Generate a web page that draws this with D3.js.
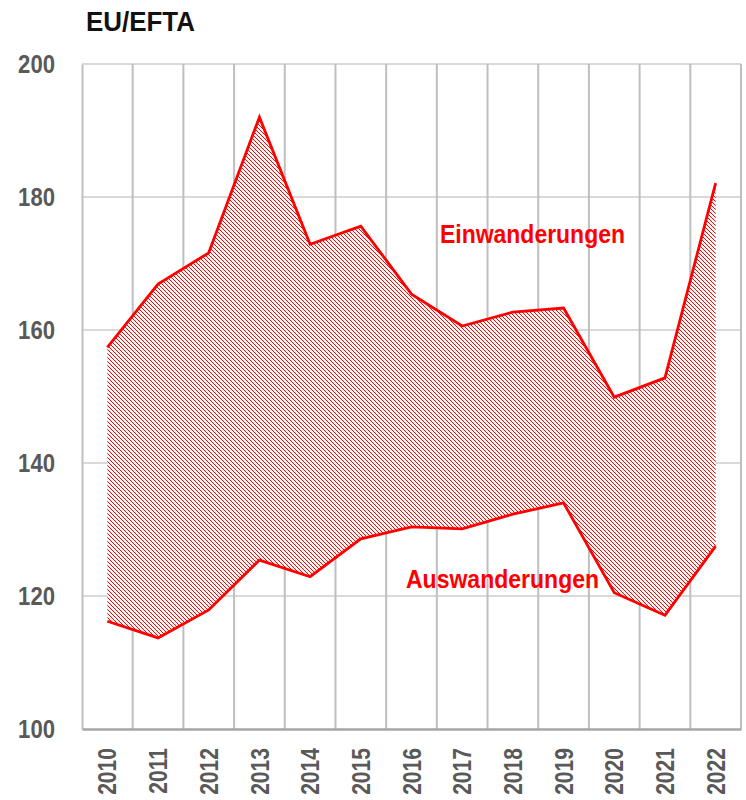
<!DOCTYPE html>
<html>
<head>
<meta charset="utf-8">
<script src="https://cdn.jsdelivr.net/npm/d3@7"></script>
<style>
  body { margin: 0; background: #fff; }
  text { font-family: "Liberation Sans", Arial, sans-serif; font-weight: bold; }
</style>
</head>
<body>
<div id="chart"></div>
<script>
// values (in thousands)
var years = ["2010", "2011", "2012", "2013", "2014", "2015", "2016", "2017", "2018", "2019", "2020", "2021", "2022"];
var einwanderungen = [157.4, 166.9, 171.6, 192.0, 172.9, 175.6, 165.4, 160.6, 162.7, 163.3, 149.9, 152.8, 182.1];
var auswanderungen = [116.2, 113.7, 117.9, 125.4, 122.9, 128.6, 130.4, 130.1, 132.3, 134.0, 120.5, 117.1, 127.5];
var yTicks = [100, 120, 140, 160, 180, 200];

var w = 746, h = 800;
var margin = { top: 64, right: 5, bottom: 71, left: 82 };
var width = w - margin.left - margin.right;
var height = h - margin.top - margin.bottom;

// the reference font is a narrow bold face, squeeze the text to match
function condense(sel, ratio) {
  sel.each(function() {
    var len = this.getComputedTextLength();
    d3.select(this)
      .attr("textLength", len * ratio)
      .attr("lengthAdjust", "spacingAndGlyphs");
  });
}

var svg = d3.select("#chart").append("svg")
  .attr("width", w)
  .attr("height", h);

// hatch pattern for the area between the two lines
var defs = svg.append("defs");
var pat = defs.append("pattern")
  .attr("id", "hatch")
  .attr("patternUnits", "userSpaceOnUse")
  .attr("width", 4)
  .attr("height", 4);
pat.append("rect").attr("width", 4).attr("height", 4).attr("fill", "#f4f4f4");
[0, 1, 2, 3].forEach(function(i) {
  pat.append("rect")
    .attr("x", i).attr("y", i)
    .attr("width", 1).attr("height", 1)
    .attr("fill", "#ff0000");
});

var chartGroup = svg.append("g")
  .attr("transform", `translate(${margin.left}, ${margin.top})`);

var xScale = d3.scaleBand()
  .domain(years)
  .range([0, width])
  .padding(0);

var yScale = d3.scaleLinear()
  .domain([100, 200])
  .range([height, 0]);

var cx = function(d, i) { return xScale(years[i]) + xScale.bandwidth() / 2; };

// horizontal gridlines
chartGroup.append("g")
  .selectAll("line")
  .data(yTicks.slice(1))
  .enter()
  .append("line")
  .attr("x1", 0)
  .attr("x2", width)
  .attr("y1", d => yScale(d))
  .attr("y2", d => yScale(d))
  .attr("stroke", "#d9d9d9")
  .attr("stroke-width", 2);

// vertical gridlines at band edges
chartGroup.append("g")
  .selectAll("line")
  .data(years.slice(1).concat(["end"]))
  .enter()
  .append("line")
  .attr("x1", d => d === "end" ? width : xScale(d))
  .attr("x2", d => d === "end" ? width : xScale(d))
  .attr("y1", 0)
  .attr("y2", height)
  .attr("stroke", "#bfbfbf")
  .attr("stroke-width", 2);

// area between the two series
var area = d3.area()
  .x(cx)
  .y0((d, i) => yScale(auswanderungen[i]))
  .y1(d => yScale(d));

chartGroup.append("path")
  .datum(einwanderungen)
  .attr("d", area)
  .attr("fill", "url(#hatch)");

var line = d3.line().x(cx).y(d => yScale(d));

[einwanderungen, auswanderungen].forEach(function(s) {
  chartGroup.append("path")
    .datum(s)
    .attr("d", line)
    .attr("fill", "none")
    .attr("stroke", "#ff0000")
    .attr("stroke-width", 2.8)
    .attr("stroke-linejoin", "miter");
});

// axes
var leftAxis = d3.axisLeft(yScale).tickValues(yTicks).tickSize(0).tickPadding(27);
var yAxis = chartGroup.append("g").call(leftAxis);
yAxis.select(".domain").attr("stroke", "#bfbfbf").attr("stroke-width", 2);
yAxis.selectAll("text")
  .attr("fill", "#595959")
  .style("font-size", "26px")
  .call(condense, 0.85);

var bottomAxis = d3.axisBottom(xScale).tickSize(0).tickPadding(0);
var xAxis = chartGroup.append("g")
  .attr("transform", `translate(0, ${height})`)
  .call(bottomAxis);
xAxis.select(".domain").attr("stroke", "#a6a6a6").attr("stroke-width", 2.5);
xAxis.selectAll("text")
  .attr("fill", "#595959")
  .style("font-size", "26px")
  .attr("text-anchor", "end")
  .attr("transform", "rotate(-90)")
  .attr("x", -19)
  .attr("y", 0)
  .attr("dy", "0.35em")
  .call(condense, 0.81);

// series labels
chartGroup.append("text")
  .attr("x", 440 - margin.left)
  .attr("y", 243 - margin.top)
  .attr("fill", "#ff0000")
  .style("font-size", "26px")
  .text("Einwanderungen")
  .call(condense, 0.883);

chartGroup.append("text")
  .attr("x", 406 - margin.left)
  .attr("y", 588 - margin.top)
  .attr("fill", "#ff0000")
  .style("font-size", "26px")
  .text("Auswanderungen")
  .call(condense, 0.885);

// title
svg.append("text")
  .attr("x", 86)
  .attr("y", 31)
  .attr("fill", "#111")
  .style("font-size", "27px")
  .text("EU/EFTA")
  .call(condense, 0.96);
</script>
</body>
</html>
